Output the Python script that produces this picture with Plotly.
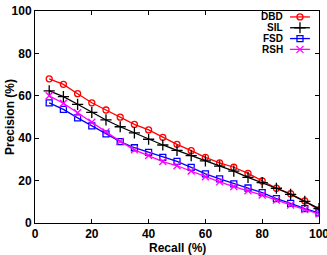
import plotly.graph_objects as go

recall = [5, 10, 15, 20, 25, 30, 35, 40, 45, 50, 55, 60, 65, 70, 75, 80, 85, 90, 95, 100]
dbd = [68, 65.4, 61, 56.7, 53.3, 49.9, 46.5, 43.9, 40.4, 37.1, 34.1, 31, 28.4, 26.3, 23.4, 19.8, 16.4, 13.8, 10.4, 6.2]
sil = [62.3, 59.6, 56, 52.2, 48.6, 45.4, 42.5, 39.5, 36.8, 34.3, 31.8, 29.3, 26.8, 24.5, 21.5, 19, 16.4, 13.5, 10.2, 6.8]
fsd = [56.7, 53.6, 49.6, 45.8, 42, 38.4, 35.5, 33.3, 31, 29.1, 26.2, 23.2, 20.8, 18.5, 16.5, 14.3, 11.5, 9.3, 6.8, 4.8]
rsh = [60, 56.5, 52, 47.5, 43, 38.5, 34.5, 31.8, 29, 27, 24.5, 21.8, 19.4, 17.2, 15.2, 13.2, 10.8, 8.5, 6.3, 4.3]

names = ["DBD", "SIL", "FSD", "RSH"]
series = [dbd, sil, fsd, rsh]
colors = ["#ff0000", "#000000", "#0000ff", "#ff00ff"]
symbols = ["circle-open", "cross-thin-open", "square-open", "x-thin-open"]
sizes = [6, 8, 6, 7]

xticks = [0, 20, 40, 60, 80, 100]
yticks = [0, 20, 40, 60, 80, 100]

FONT = "Liberation Sans"
fig = go.Figure()
for n, s, c, sym, sz in zip(names, series, colors, symbols, sizes):
    fig.add_trace(go.Scatter(
        x=recall, y=s, mode="lines+markers", name=n,
        line=dict(color=c, width=1.3),
        marker=dict(symbol=sym, size=sz, color=c, line=dict(color=c, width=1.3)),
        showlegend=False))

# manual legend (text left of key, like the original)
key_x0, key_x1 = 0.898, 0.968
key_y0, key_dy = 0.972, 0.051
for i, (n, c, sym, sz) in enumerate(zip(names, colors, symbols, sizes)):
    yy = key_y0 - i * key_dy
    fig.add_trace(go.Scatter(
        x=[key_x0, key_x1], y=[yy, yy],
        xaxis="x2", yaxis="y2", mode="lines", showlegend=False,
        line=dict(color=c, width=1.3), hoverinfo="skip"))
    fig.add_trace(go.Scatter(
        x=[(key_x0 + key_x1) / 2], y=[yy],
        xaxis="x2", yaxis="y2", mode="markers", showlegend=False,
        marker=dict(symbol=sym, size=sz, color=c, line=dict(color=c, width=1.3)),
        hoverinfo="skip"))
    fig.add_annotation(x=key_x0 - 0.02, y=yy, xref="x2", yref="y2",
                       text="<b>%s</b>" % n, showarrow=False, xanchor="right",
                       yanchor="middle", borderpad=0,
                       font=dict(family=FONT, size=10, color="black"))

axis_common = dict(showgrid=False, zeroline=False, showline=True, linecolor="black",
                   linewidth=1, mirror="ticks", ticks="inside", ticklen=4,
                   tickcolor="black", tickwidth=1, ticklabeloverflow="allow",
                   automargin=False,
                   tickfont=dict(family=FONT, size=12, color="black"))

fig.update_layout(
    template="none",
    width=327, height=255,
    margin=dict(l=35, r=8, t=11, b=32),
    plot_bgcolor="white", paper_bgcolor="white",
    xaxis=dict(range=[0, 100], tickvals=xticks,
               ticktext=["<b>%d</b>" % v for v in xticks], **axis_common),
    yaxis=dict(range=[0, 100], tickvals=yticks,
               ticktext=["<b>%d</b>" % v for v in yticks], **axis_common),
    xaxis2=dict(overlaying="x", range=[0, 1], visible=False),
    yaxis2=dict(overlaying="y", range=[0, 1], visible=False),
)
fig.add_annotation(text="<b>Recall (%)</b>", xref="paper", yref="paper",
                   x=0.5, y=-25 / 212, xanchor="center", yanchor="middle",
                   showarrow=False, font=dict(family=FONT, size=12, color="black"))
fig.add_annotation(text="<b>Precision (%)</b>", xref="paper", yref="paper",
                   x=-25 / 284, y=0.5, xanchor="center", yanchor="middle",
                   textangle=-90, showarrow=False,
                   font=dict(family=FONT, size=12, color="black"))

fig.write_html("out.html")
